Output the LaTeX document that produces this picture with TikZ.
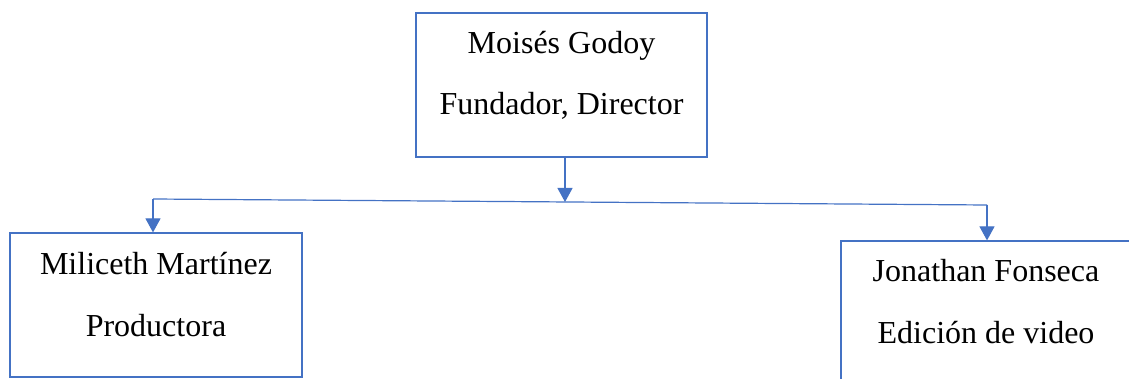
\documentclass[tikz,border=0pt]{standalone}
\usepackage{fontspec}
\setmainfont{Liberation Serif}
\usetikzlibrary{arrows.meta}
\definecolor{lineblue}{HTML}{4472C4}
\tikzset{
  box/.style={draw=lineblue, line width=1.2pt, rectangle, inner sep=0pt},
  txt/.style={anchor=base, inner sep=0pt, font=\fontsize{32}{38}\selectfont},
  arr/.style={draw=lineblue, line width=1.2pt, -{Triangle[length=14pt,width=15pt]}},
  conn/.style={draw=lineblue, line width=1.2pt}
}
\begin{document}
\begin{tikzpicture}[x=1pt,y=-1pt]
\useasboundingbox (0,0) rectangle (1129,379);
\clip (0,0) rectangle (1129,379);
% boxes
\node[box, minimum width=291pt, minimum height=144pt] (top) at (561.5,85) {};
\node[box, minimum width=292pt, minimum height=144pt] (left) at (156,305) {};
\node[box, minimum width=290pt, minimum height=144pt] (right) at (986,313) {};
% texts
\node[txt] (t1) at (561.5,54) {Moisés Godoy};
\node[txt] (t2) at (561.5,115) {Fundador, Director};
\node[txt] (l1) at (156,274) {Miliceth Martínez};
\node[txt] (l2) at (156,336) {Productora};
\node[txt] (r1) at (986,281) {Jonathan Fonseca};
\node[txt] (r2) at (986,343) {Edición de video};
% connectors
\coordinate (jl) at (153,199);
\coordinate (jr) at (987,205);
\coordinate (jm) at (565,202);
\draw[conn] (jl) -- (jr);
\draw[arr] (top.south -| jm) -- (jm);
\draw[arr] (jl) -- (jl |- left.north);
\draw[arr] (jr) -- (jr |- right.north);
\end{tikzpicture}
\end{document}
